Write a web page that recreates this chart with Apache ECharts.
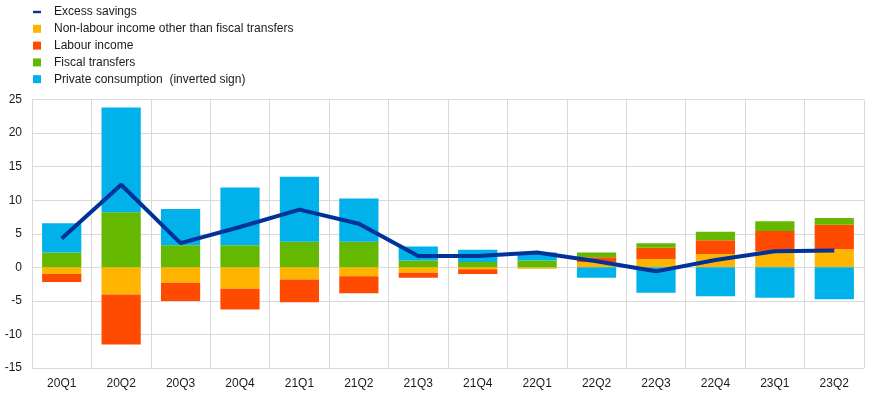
<!DOCTYPE html>
<html>
<head>
<meta charset="utf-8">
<script src="https://cdn.jsdelivr.net/npm/echarts@6/dist/echarts.min.js"></script>
<style>
html,body{margin:0;padding:0;background:#fff;}
#chart{width:874px;height:394px;}
</style>
</head>
<body>
<div id="chart"></div>
<script>
const categories = ['20Q1','20Q2','20Q3','20Q4','21Q1','21Q2','21Q3','21Q4','22Q1','22Q2','22Q3','22Q4','23Q1','23Q2'];
const nonLabour = [-1.0, -4.05, -2.3, -3.2, -1.8, -1.35, -0.8, -0.3, -0.2, 0.8, 1.25, 2.0, 2.4, 2.7];
const labour = [-1.2, -7.45, -2.7, -3.1, -3.4, -2.5, -0.75, -0.7, 0, 0.7, 1.65, 2.05, 3.0, 3.65];
const fiscal = [2.2, 8.2, 3.3, 3.3, 3.8, 3.8, 1.0, 0.8, 1.0, 0.7, 0.7, 1.25, 1.45, 1.0];
const consumption = [4.35, 15.6, 5.4, 8.6, 9.7, 6.45, 2.1, 1.8, 1.2, -1.55, -3.8, -4.3, -4.55, -4.75];
const excessSavings = [4.3, 12.3, 3.6, 6.0, 8.6, 6.5, 1.7, 1.7, 2.2, 0.9, -0.6, 1.1, 2.4, 2.5];

const names = {
  ex: 'Excess savings',
  nl: 'Non-labour income other than fiscal transfers',
  lb: 'Labour income',
  fi: 'Fiscal transfers',
  pc: 'Private consumption  (inverted sign)'
};
const colors = {ex:'#003299', nl:'#ffb400', lb:'#ff4b00', fi:'#65b800', pc:'#00b1ea'};

const chart = echarts.init(document.getElementById('chart'), null, {renderer:'canvas'});
const font = 'Arial, "Liberation Sans", sans-serif';
function bar(key, data){
  return {name:names[key], type:'bar', stack:'s', data:data, barWidth:'66%',
    itemStyle:{color:colors[key]}, emphasis:{disabled:true}};
}
chart.setOption({
  animation:false,
  textStyle:{fontFamily:font},
  legend:{
    orient:'vertical', left:28, top:1, itemWidth:8, itemHeight:8, itemGap:4.8,
    textStyle:{fontFamily:font, fontSize:12, color:'#1a1a1a', padding:[0,0,0,8]},
    data:[
      {name:names.ex, icon:'path://M0,0 L10,0 L10,3 L0,3 Z'},
      {name:names.nl, icon:'rect'},
      {name:names.lb, icon:'rect'},
      {name:names.fi, icon:'rect'},
      {name:names.pc, icon:'rect'}
    ]
  },
  grid:{left:32, right:10, top:99.5, bottom:26, containLabel:false},
  xAxis:{
    type:'category', data:categories, boundaryGap:true,
    axisLine:{show:false}, axisTick:{show:false},
    splitLine:{show:true, lineStyle:{color:'#d9d9d9', width:1}},
    axisLabel:{fontFamily:font, fontSize:12, color:'#1a1a1a', margin:10}
  },
  yAxis:{
    type:'value', min:-15, max:25, interval:5,
    axisLine:{show:false}, axisTick:{show:false},
    splitLine:{show:true, lineStyle:{color:'#d9d9d9', width:1}},
    axisLabel:{fontFamily:font, fontSize:12, color:'#1a1a1a', margin:10}
  },
  series:[
    bar('nl', nonLabour),
    bar('lb', labour),
    bar('fi', fiscal),
    bar('pc', consumption),
    {name:names.ex, type:'line', data:excessSavings, symbol:'none', z:10,
     lineStyle:{color:colors.ex, width:4}, itemStyle:{color:colors.ex}}
  ]
});
</script>
</body>
</html>
